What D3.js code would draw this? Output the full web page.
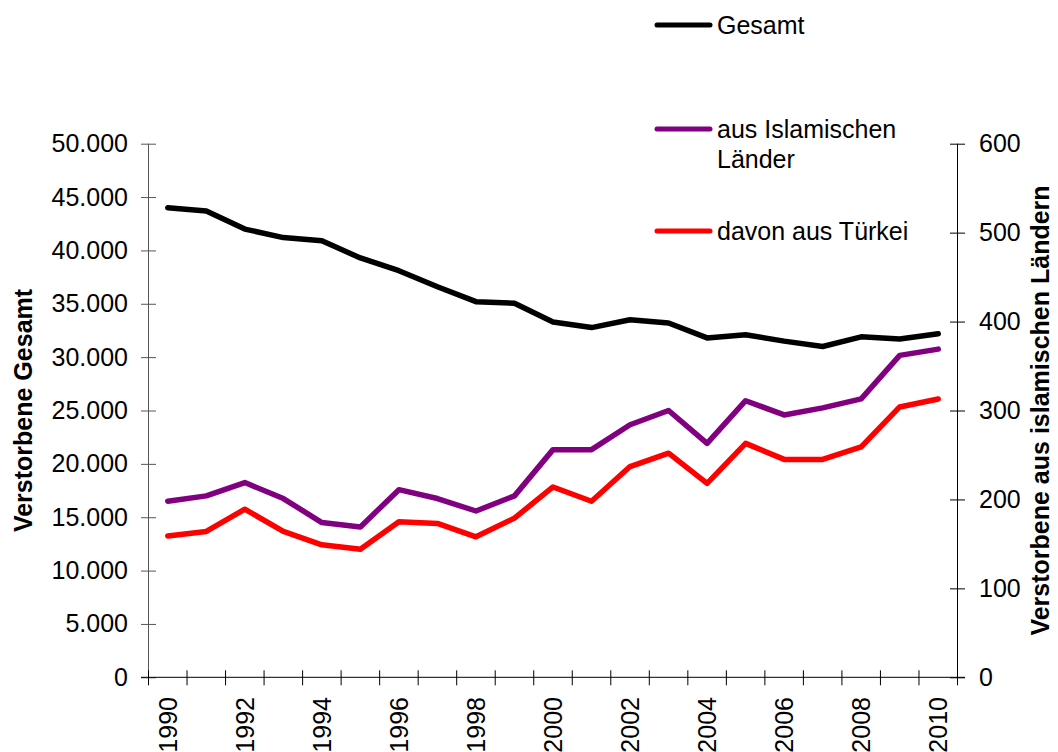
<!doctype html>
<html>
  <head>
    <meta charset="utf-8">
    <script src="https://cdnjs.cloudflare.com/ajax/libs/d3/7.8.5/d3.min.js"></script>
    <style>
      body { margin: 0; background: #fff; }
      svg { font-family: "Liberation Sans", Arial, sans-serif; }
      .tick text { font-size: 25px; fill: #000; }
      path.series { fill: none; stroke-width: 5.5; stroke-linecap: round; stroke-linejoin: round; }
      .title { font-size: 25px; font-weight: bold; }
      .legend text { font-size: 25px; }
    </style>
  </head>
  <body>
    <svg width="1058" height="752"></svg>
    <script>
      var years = d3.range(1990, 2011);
      var gesamt = [44000, 43700, 42000, 41200, 40900, 39300, 38100, 36600, 35200, 35050,
                    33300, 32770, 33500, 33200, 31800, 32100, 31500, 31000, 31900, 31700, 32200];
      var islamisch = [198, 204, 219, 201, 174, 169, 211, 201, 187, 204,
                       256, 256, 284, 300, 263, 311, 295, 303, 313, 362, 369];
      var tuerkei = [159, 164, 189, 164, 149, 144, 175, 173, 158, 179,
                     214, 198, 237, 252, 218, 263, 245, 245, 259, 304, 313];
      var leftTicks = d3.range(0, 50001, 5000);
      var rightTicks = d3.range(0, 601, 100);
      var yearLabels = years.filter(d => d % 2 == 0);

      var de = d3.formatLocale({decimal: ",", thousands: ".", grouping: [3], currency: ["", " €"]});
      var fmt = de.format(",");

      var svg = d3.select("svg");
      var x = d3.scaleBand().domain(years).range([148.5, 957.5]);
      var yL = d3.scaleLinear().domain([0, 50000]).range([677.3, 143.7]);
      var yR = d3.scaleLinear().domain([0, 600]).range([677.3, 143.7]);

      // left axis
      var gl = svg.append("g").attr("transform", "translate(148.5,0)")
        .call(d3.axisLeft(yL).tickValues(leftTicks).tickFormat(fmt).tickSize(7.5).tickPadding(13));
      gl.selectAll(".tick line").attr("x1", 7.5).attr("stroke", "#555");
      gl.select(".domain").attr("stroke", "#555").attr("d", "M0," + yL(50000) + "V" + yL(0));

      // right axis
      var gr = svg.append("g").attr("transform", "translate(957.5,0)")
        .call(d3.axisRight(yR).tickValues(rightTicks).tickSize(7.5).tickPadding(14));
      gr.selectAll(".tick line").attr("x1", -7.5).attr("stroke", "#000");
      gr.select(".domain").attr("stroke", "#000").attr("d", "M0," + yR(600) + "V" + yR(0));

      // bottom axis
      var bounds = years.map(d => x(d)).concat([x.range()[1]]);
      svg.append("line").attr("x1", 141).attr("x2", 965)
        .attr("y1", yL(0)).attr("y2", yL(0)).attr("stroke", "#000");
      svg.selectAll("line.xtick").data(bounds).enter().append("line")
        .attr("class", "xtick")
        .attr("x1", d => d).attr("x2", d => d)
        .attr("y1", yL(0) - 7).attr("y2", yL(0) + 8)
        .attr("stroke", "#000");
      svg.selectAll("text.xlab").data(yearLabels).enter().append("text")
        .attr("class", "xlab")
        .attr("transform", d => "translate(" + (x(d) + x.bandwidth() / 2) + ",697) rotate(-90)")
        .attr("text-anchor", "end")
        .attr("dy", "0.35em")
        .style("font-size", "25px")
        .text(d => d);

      // lines
      var lineL = d3.line().x((d, i) => x(years[i]) + x.bandwidth() / 2).y(d => yL(d));
      var lineR = d3.line().x((d, i) => x(years[i]) + x.bandwidth() / 2).y(d => yR(d));
      svg.append("path").attr("class", "series").attr("stroke", "#000").attr("d", lineL(gesamt));
      svg.append("path").attr("class", "series").attr("stroke", "#800080").attr("d", lineR(islamisch));
      svg.append("path").attr("class", "series").attr("stroke", "#ff0000").attr("d", lineR(tuerkei));

      // axis titles
      svg.append("text").attr("class", "title")
        .attr("transform", "translate(32," + (yL(0) + yL(50000)) / 2 + ") rotate(-90)")
        .attr("text-anchor", "middle")
        .text("Verstorbene Gesamt");
      svg.append("text").attr("class", "title")
        .attr("transform", "translate(1049," + (yR(0) + yR(600)) / 2 + ") rotate(-90)")
        .attr("text-anchor", "middle")
        .text("Verstorbene aus islamischen Ländern");

      // legend
      var legend = [
        {name: ["Gesamt"], color: "#000", y: 25},
        {name: ["aus Islamischen", "Länder"], color: "#800080", y: 129},
        {name: ["davon aus Türkei"], color: "#ff0000", y: 231}
      ];
      var lg = svg.append("g").attr("class", "legend");
      legend.forEach(d => {
        lg.append("line").attr("x1", 657).attr("x2", 710).attr("y1", d.y).attr("y2", d.y)
          .attr("stroke", d.color).attr("stroke-width", 5).attr("stroke-linecap", "round");
        var t = lg.append("text").attr("x", 717).attr("y", d.y + 9);
        d.name.forEach((n, i) => {
          t.append("tspan").attr("x", 717).attr("dy", i == 0 ? 0 : 30).text(n);
        });
      });
    </script>
  </body>
</html>
